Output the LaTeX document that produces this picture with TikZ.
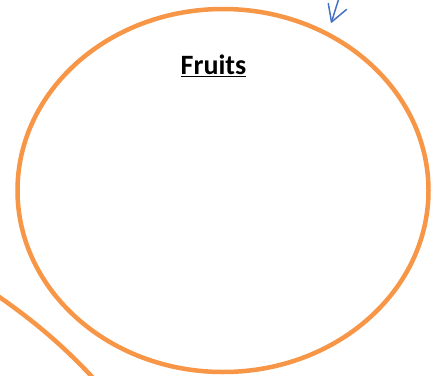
\documentclass[tikz,border=0pt]{standalone}
\usepackage{fontspec}
\setmainfont{Carlito}
\usetikzlibrary{shapes.geometric}
\definecolor{fruitorange}{HTML}{F79646}
\definecolor{arrowblue}{HTML}{4472C4}
\tikzset{
  bigset/.style={ellipse, draw=fruitorange, line width=4.5pt, inner sep=0pt},
  setline/.style={draw=fruitorange, line width=4.5pt},
  title/.style={font=\fontsize{28}{32}\selectfont\bfseries, inner sep=0pt},
  bluestroke/.style={draw=arrowblue, line width=1.5pt, line cap=round, line join=round}
}
\begin{document}
\begin{tikzpicture}[x=1pt,y=-1pt]
\useasboundingbox[fill=white] (0,0) rectangle (436,375);
\node[bigset, minimum width=411pt, minimum height=363pt] (fruits) at (223,190.5) {};
\node[title, anchor=base] (lbl) at (213.5,74.5) {\underline{Fruits}};
\draw[setline] (-5,294) .. controls (30,318) and (62,344) .. (95,380);
\coordinate (tip) at (331.5,22);
\coordinate (tail) at (339,-2);
\coordinate (barbL) at (328.3,3.5);
\coordinate (barbR) at (346.5,9.5);
\draw[bluestroke] (tail) -- (tip);
\draw[bluestroke] (barbL) -- (tip) -- (barbR);
\end{tikzpicture}
\end{document}
